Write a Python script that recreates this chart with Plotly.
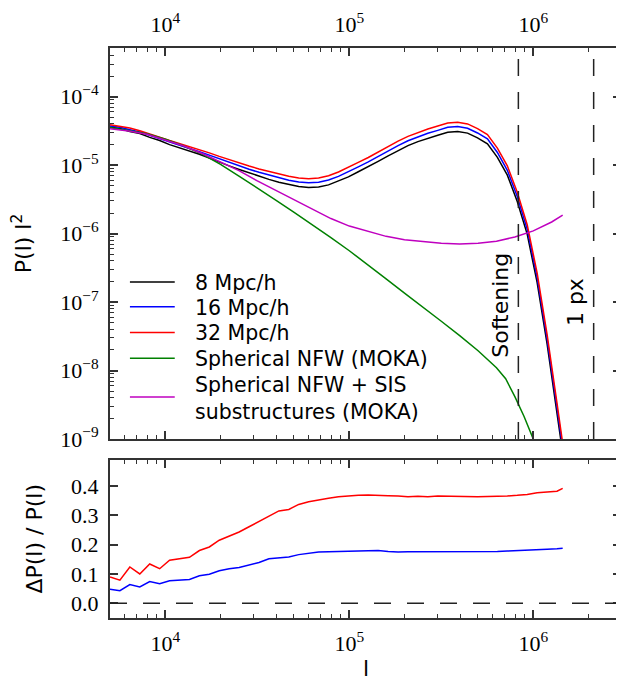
import plotly.graph_objects as go

# ---------------- data ----------------
# multipole grid of the N-body maps
ell = [5000, 5660, 6410, 7260, 8220, 9310, 10540, 11940, 13520, 15310, 17340, 19630,
       22230, 25180, 28510, 32290, 36560, 41400, 46880, 53090, 60120, 68080, 77090,
       87300, 98860, 111900, 126800, 143500, 162600, 184100, 208400, 236000, 267300,
       302700, 342800, 388200, 439500, 497700, 563600, 638300, 722800, 818500, 926800,
       1050000, 1189000, 1346000, 1445000]

# log10 of P(l) l^2
log10_P_8 = [-4.447, -4.465, -4.509, -4.538, -4.594, -4.640, -4.700, -4.744, -4.790, -4.842,
             -4.897, -4.957, -5.011, -5.063, -5.113, -5.162, -5.208, -5.249, -5.284, -5.312,
             -5.326, -5.319, -5.288, -5.235, -5.171, -5.096, -5.024, -4.944, -4.864, -4.784,
             -4.714, -4.656, -4.605, -4.563, -4.519, -4.507, -4.532, -4.601, -4.688, -4.886,
             -5.146, -5.531, -6.007, -6.715, -7.610, -8.616, -9.204]
log10_P_16 = [-4.427, -4.447, -4.482, -4.514, -4.563, -4.612, -4.668, -4.711, -4.756, -4.803,
              -4.856, -4.911, -4.962, -5.013, -5.060, -5.105, -5.146, -5.186, -5.220, -5.245,
              -5.257, -5.249, -5.218, -5.164, -5.100, -5.025, -4.952, -4.872, -4.793, -4.714,
              -4.644, -4.586, -4.535, -4.492, -4.448, -4.437, -4.461, -4.530, -4.617, -4.815,
              -5.075, -5.459, -5.935, -6.642, -7.537, -8.542, -9.129]
log10_P_32 = [-4.410, -4.432, -4.458, -4.497, -4.539, -4.591, -4.640, -4.683, -4.727, -4.770,
              -4.821, -4.872, -4.922, -4.968, -5.012, -5.055, -5.094, -5.130, -5.163, -5.186,
              -5.197, -5.188, -5.155, -5.100, -5.035, -4.960, -4.888, -4.808, -4.728, -4.649,
              -4.580, -4.521, -4.471, -4.428, -4.384, -4.372, -4.398, -4.467, -4.553, -4.751,
              -5.010, -5.395, -5.870, -6.576, -7.470, -8.475, -9.060]

# relative difference with respect to 8 Mpc/h
dP_16 = [0.048, 0.043, 0.064, 0.056, 0.074, 0.067, 0.077, 0.079, 0.081, 0.094, 0.099, 0.111,
         0.118, 0.122, 0.130, 0.139, 0.152, 0.156, 0.158, 0.166, 0.171, 0.175, 0.176, 0.177,
         0.178, 0.178, 0.179, 0.180, 0.177, 0.175, 0.176, 0.176, 0.175, 0.177, 0.177, 0.176,
         0.177, 0.177, 0.177, 0.177, 0.178, 0.179, 0.181, 0.182, 0.184, 0.186, 0.188]
dP_32 = [0.090, 0.079, 0.124, 0.100, 0.134, 0.118, 0.147, 0.151, 0.157, 0.180, 0.192, 0.215,
         0.228, 0.243, 0.261, 0.279, 0.299, 0.315, 0.320, 0.337, 0.346, 0.353, 0.358, 0.363,
         0.366, 0.368, 0.369, 0.369, 0.367, 0.366, 0.363, 0.365, 0.363, 0.366, 0.365, 0.364,
         0.362, 0.363, 0.364, 0.364, 0.366, 0.368, 0.371, 0.377, 0.379, 0.382, 0.392]

# MOKA models
ell_nfw = [5000, 6310, 7940, 10000, 12590, 15850, 19950, 25120, 31620, 39810, 50120, 63100,
           79430, 100000, 125900, 158500, 199500, 251200, 316200, 398100, 501200, 631000,
           707900, 794300, 891300, 1000000, 1047000]
log10_P_nfw = [-4.45, -4.49, -4.54, -4.62, -4.72, -4.84, -4.99, -5.16, -5.33, -5.51, -5.69,
               -5.87, -6.06, -6.25, -6.45, -6.66, -6.87, -7.07, -7.28, -7.49, -7.71, -7.96,
               -8.12, -8.38, -8.67, -9.00, -9.12]
ell_sis = [5000, 6310, 7940, 10000, 12590, 15850, 19950, 25120, 31620, 39810, 50120, 63100,
           79430, 100000, 125900, 158500, 199500, 251200, 316200, 398100, 501200, 631000,
           794300, 1000000, 1259000, 1445000]
log10_P_sis = [-4.47, -4.50, -4.55, -4.63, -4.72, -4.83, -4.95, -5.08, -5.23, -5.37, -5.51,
               -5.65, -5.78, -5.89, -5.97, -6.04, -6.09, -6.12, -6.14, -6.15, -6.14, -6.11,
               -6.05, -5.96, -5.83, -5.73]

ell_softening = 830000
ell_pixel = 2130000

series_names = ["8 Mpc/h", "16 Mpc/h", "32 Mpc/h", "Spherical NFW (MOKA)",
                "Spherical NFW + SIS<br>substructures (MOKA)"]
series_colors = ["#000000", "#0000ff", "#ff0000", "#008000", "#bf00bf"]

x_tickvals = [1e4, 1e5, 1e6]
x_ticktext = ["10<sup>4</sup>", "10<sup>5</sup>", "10<sup>6</sup>"]
y_tickvals = [1e-9, 1e-8, 1e-7, 1e-6, 1e-5, 1e-4]
y_ticktext = ["10<sup>−9</sup>", "10<sup>−8</sup>", "10<sup>−7</sup>",
              "10<sup>−6</sup>", "10<sup>−5</sup>", "10<sup>−4</sup>"]
dy_tickvals = [0.0, 0.1, 0.2, 0.3, 0.4]
dy_ticktext = ["0.0", "0.1", "0.2", "0.3", "0.4"]

# ---------------- figure ----------------
SANS = "DejaVu Sans"
SERIF = "Liberation Serif"
FRAME = "#333333"

fig = go.Figure()

top_xy = [(ell, log10_P_8), (ell, log10_P_16), (ell, log10_P_32),
          (ell_nfw, log10_P_nfw), (ell_sis, log10_P_sis)]
for (xs, lys), name, col in zip(top_xy, series_names, series_colors):
    fig.add_trace(go.Scatter(x=xs, y=[10 ** v for v in lys], mode="lines",
                             name=name.replace("<br>", " "), showlegend=False,
                             line=dict(color=col, width=1.5), xaxis="x", yaxis="y"))

fig.add_trace(go.Scatter(x=ell, y=dP_16, mode="lines", name="16 Mpc/h", showlegend=False,
                         line=dict(color="#0000ff", width=1.5), xaxis="x2", yaxis="y2"))
fig.add_trace(go.Scatter(x=ell, y=dP_32, mode="lines", name="32 Mpc/h", showlegend=False,
                         line=dict(color="#ff0000", width=1.5), xaxis="x2", yaxis="y2"))

minor_x = [m * 10 ** d for d in range(3, 7) for m in range(2, 10)]
minor_y = [m * 10.0 ** d for d in range(-10, -2) for m in range(2, 10)]

tick_common = dict(ticks="inside", ticklen=8, tickwidth=1.5, tickcolor=FRAME,
                   showline=True, linecolor=FRAME, linewidth=2, mirror="ticks",
                   showgrid=False, zeroline=False, ticklabelstandoff=5,
                   tickfont=dict(family=SERIF, size=22, color="black"))
minor_common = dict(ticks="inside", ticklen=4, tickwidth=1.2, tickcolor=FRAME)

# the page body adds an 8 px offset, so the figure is 8 px smaller than the window
xr = [3.699, 6.477]
fig.update_layout(
    width=616, height=677,
    margin=dict(l=102, r=1, t=33, b=67),
    paper_bgcolor="white", plot_bgcolor="white",
    showlegend=False,
    xaxis=dict(type="log", range=xr, domain=[0, 1], anchor="y", side="top",
               tickmode="array", tickvals=x_tickvals, ticktext=x_ticktext,
               minor=dict(tickvals=minor_x, **minor_common),
               **tick_common),
    yaxis=dict(type="log", range=[-9, -3.289], domain=[0.314, 1], anchor="x",
               tickmode="array", tickvals=y_tickvals, ticktext=y_ticktext,
               minor=dict(tickvals=minor_y, **minor_common),
               title=dict(text="P(l) l<sup>2</sup>", font=dict(family=SANS, size=22, color="black"),
                          standoff=29),
               **tick_common),
    xaxis2=dict(type="log", range=xr, domain=[0, 1], anchor="y2", side="bottom",
                tickmode="array", tickvals=x_tickvals, ticktext=x_ticktext,
                minor=dict(tickvals=minor_x, **minor_common),
                **tick_common),
    yaxis2=dict(range=[-0.05, 0.49], domain=[0, 0.278], anchor="x2",
                tickmode="array", tickvals=dy_tickvals, ticktext=dy_ticktext,
                title=dict(text="ΔP(l) / P(l)", font=dict(family=SANS, size=22, color="black"),
                           standoff=22),
                **tick_common),
)

# x-axis label of the lower panel
fig.add_annotation(x=0.5, y=-0.0884, xref="paper", yref="paper", text="l", showarrow=False,
                   xanchor="center", yanchor="middle",
                   font=dict(family=SANS, size=22, color="black"))

# legend (drawn in paper coordinates of the plotting area)
legend_y = [0.5893, 0.5459, 0.5009, 0.4558, 0.3877]
for name, col, ly in zip(series_names, series_colors, legend_y):
    fig.add_shape(type="line", xref="paper", yref="paper", x0=0.039, x1=0.1267, y0=ly, y1=ly,
                  line=dict(color=col, width=1.5))
    fig.add_annotation(x=0.1618, y=ly, xref="paper", yref="paper", text=name, showarrow=False,
                       xanchor="left", yanchor="middle", align="left", yshift=-1,
                       font=dict(family=SANS, size=20.5, color="black"))

dash = "17px,16px"
for xv in [ell_softening, ell_pixel]:
    fig.add_shape(type="line", xref="x", yref="y domain", x0=xv, x1=xv, y0=0, y1=1,
                  line=dict(color="#222222", width=1.5, dash=dash))
fig.add_shape(type="line", xref="x2 domain", yref="y2", x0=0, x1=1, y0=0, y1=0,
              line=dict(color="#222222", width=1.5, dash=dash))

fig.add_annotation(x=5.822, y=-7.045, xref="x", yref="y", text="Softening", textangle=-90,
                   showarrow=False, xanchor="center", yanchor="middle",
                   font=dict(family=SANS, size=22, color="black"))
fig.add_annotation(x=6.227, y=-7.0, xref="x", yref="y", text="1 px", textangle=-90,
                   showarrow=False, xanchor="center", yanchor="middle",
                   font=dict(family=SANS, size=22, color="black"))

fig.write_html("out.html")
